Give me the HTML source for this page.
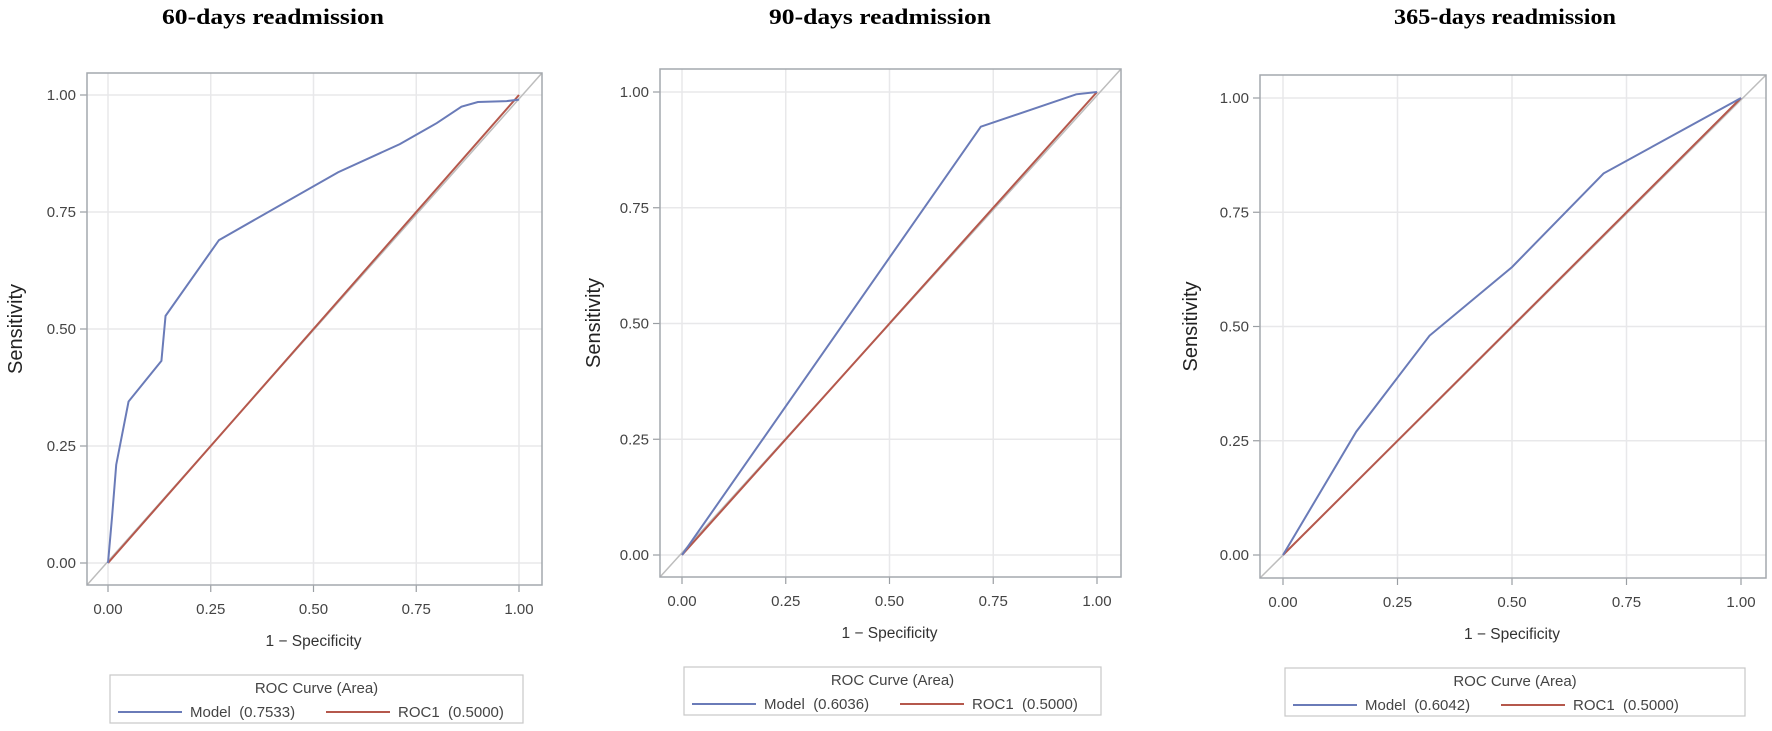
<!DOCTYPE html>
<html><head><meta charset="utf-8"><style>
html,body{margin:0;padding:0;background:#fff;}
svg{display:block;}
text{font-family:"Liberation Sans",sans-serif;}
</style></head><body>
<svg id="s" width="1772" height="731" xmlns="http://www.w3.org/2000/svg"></svg>
<script>
const P=[
 {t:"60-days readmission",tc:273,f:[87,73,542,585],x0:108,x1:519,y1:95,y0:563,yl:15,area:"0.7533",
  d:[[0,0],[0.01,0.1],[0.02,0.21],[0.05,0.345],[0.13,0.432],[0.14,0.528],[0.27,0.69],[0.56,0.835],[0.71,0.895],[0.80,0.94],[0.86,0.975],[0.9,0.985],[0.97,0.987],[1,0.99]]},
 {t:"90-days readmission",tc:880,f:[660,69,1121,577],x0:682,x1:1097,y1:92,y0:555,yl:593,area:"0.6036",
  d:[[0,0],[0.72,0.925],[0.95,0.995],[1,1]]},
 {t:"365-days readmission",tc:1505,f:[1260,75,1766,578],x0:1283,x1:1741,y1:98,y0:555,yl:1190,area:"0.6042",
  d:[[0,0],[0.16,0.27],[0.32,0.48],[0.5,0.63],[0.7,0.835],[1,1]]}
];
let h="";
for(const p of P){
 const [L,T,R,B]=p.f;
 const X=v=>p.x0+v*(p.x1-p.x0), Y=v=>p.y0-v*(p.y0-p.y1);
 h+=`<text x="${p.tc}" y="24" text-anchor="middle" font-weight="bold" font-size="22" style="font-family:'Liberation Serif',serif" textLength="222" lengthAdjust="spacingAndGlyphs">${p.t}</text>`;
 const ticks=["0.00","0.25","0.50","0.75","1.00"];
 for(let i=0;i<5;i++){
  const v=i*0.25,x=X(v),y=Y(v);
  h+=`<line x1="${x}" y1="${T}" x2="${x}" y2="${B}" stroke="#e8e8ea" stroke-width="1.5"/>`;
  h+=`<line x1="${L}" y1="${y}" x2="${R}" y2="${y}" stroke="#e8e8ea" stroke-width="1.5"/>`;
  h+=`<line x1="${x}" y1="${B}" x2="${x}" y2="${B+7}" stroke="#9a9ea3" stroke-width="1.2"/>`;
  h+=`<line x1="${L-7}" y1="${y}" x2="${L}" y2="${y}" stroke="#9a9ea3" stroke-width="1.2"/>`;
  h+=`<text x="${x}" y="${B+29}" text-anchor="middle" font-size="15" fill="#444">${ticks[i]}</text>`;
  h+=`<text x="${L-11}" y="${y+5}" text-anchor="end" font-size="15" fill="#444">${ticks[i]}</text>`;
 }
 h+=`<line x1="${L}" y1="${B}" x2="${R}" y2="${T}" stroke="#bdbdbd" stroke-width="1.5"/>`;
 h+=`<line x1="${X(0)}" y1="${Y(0)}" x2="${X(1)}" y2="${Y(1)}" stroke="#b5584c" stroke-width="2"/>`;
 h+=`<polyline fill="none" stroke="#6a7bb8" stroke-width="2" points="${p.d.map(q=>X(q[0])+","+Y(q[1])).join(" ")}"/>`;
 h+=`<rect x="${L}" y="${T}" width="${R-L}" height="${B-T}" fill="none" stroke="#a4a8ad" stroke-width="1.5"/>`;
 h+=`<text x="${(X(0)+X(1))/2}" y="${B+61}" text-anchor="middle" font-size="15.5" fill="#333">1 − Specificity</text>`;
 const cy=(T+B)/2;
 h+=`<text x="${p.yl+7}" y="${cy}" text-anchor="middle" font-size="20" fill="#222" transform="rotate(-90 ${p.yl+7} ${cy})">Sensitivity</text>`;
 const lx=X(0)+2,rx=X(1)+4,ly=B+90;
 h+=`<rect x="${lx}" y="${ly}" width="${rx-lx}" height="48" fill="#fff" stroke="#c8c8c8" stroke-width="1.2"/>`;
 const c=(lx+rx)/2;
 h+=`<text x="${c}" y="${ly+18}" text-anchor="middle" font-size="15" fill="#444">ROC Curve (Area)</text>`;
 h+=`<line x1="${lx+8}" y1="${ly+37}" x2="${lx+72}" y2="${ly+37}" stroke="#6a7bb8" stroke-width="2"/>`;
 h+=`<text x="${lx+80}" y="${ly+42}" font-size="15" fill="#444" xml:space="preserve">Model  (${p.area})</text>`;
 h+=`<line x1="${lx+216}" y1="${ly+37}" x2="${lx+280}" y2="${ly+37}" stroke="#b5584c" stroke-width="2"/>`;
 h+=`<text x="${lx+288}" y="${ly+42}" font-size="15" fill="#444" xml:space="preserve">ROC1  (0.5000)</text>`;
}
document.getElementById("s").innerHTML=h;
</script>
</body></html>
